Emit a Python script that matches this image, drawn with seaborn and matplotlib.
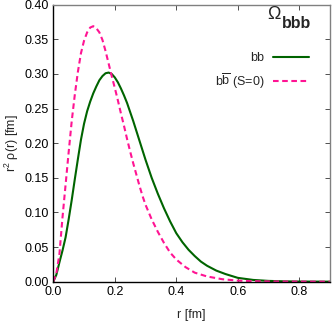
import matplotlib
matplotlib.use("Agg")
import matplotlib.pyplot as plt
import seaborn as sns
import pandas as pd

r_bb = [0.0, 0.01, 0.02, 0.03, 0.04, 0.05, 0.06, 0.07, 0.08, 0.09, 0.10, 0.11, 0.12,
        0.13, 0.14, 0.15, 0.16, 0.17, 0.18, 0.19, 0.20, 0.21, 0.22, 0.23, 0.24, 0.25,
        0.26, 0.27, 0.28, 0.29, 0.30, 0.32, 0.34, 0.36, 0.38, 0.40, 0.42, 0.44, 0.46,
        0.48, 0.50, 0.53, 0.56, 0.60, 0.65, 0.70, 0.75, 0.80, 0.90]
rho_bb = [0.0, 0.010, 0.028, 0.045, 0.064, 0.090, 0.118, 0.148, 0.177, 0.205, 0.228,
          0.246, 0.260, 0.272, 0.282, 0.291, 0.297, 0.301, 0.302, 0.300, 0.295, 0.288,
          0.279, 0.269, 0.258, 0.245, 0.232, 0.218, 0.204, 0.190, 0.176, 0.150, 0.127,
          0.106, 0.087, 0.070, 0.057, 0.046, 0.037, 0.029, 0.023, 0.016, 0.011, 0.0055,
          0.0025, 0.0011, 0.0005, 0.0002, 0.0]

r_bbar = [0.0, 0.01, 0.02, 0.03, 0.04, 0.05, 0.06, 0.07, 0.08, 0.09, 0.10, 0.11, 0.12,
          0.13, 0.14, 0.15, 0.16, 0.17, 0.18, 0.19, 0.20, 0.21, 0.22, 0.23, 0.24, 0.25,
          0.26, 0.27, 0.28, 0.29, 0.30, 0.32, 0.34, 0.36, 0.38, 0.40, 0.43, 0.46, 0.50,
          0.55, 0.60, 0.65, 0.70, 0.80, 0.90]
rho_bbar = [0.0, 0.012, 0.040, 0.093, 0.140, 0.187, 0.232, 0.270, 0.303, 0.330, 0.348,
            0.360, 0.367, 0.369, 0.366, 0.360, 0.349, 0.333, 0.315, 0.297, 0.280, 0.262,
            0.243, 0.225, 0.206, 0.188, 0.171, 0.155, 0.139, 0.124, 0.111, 0.090, 0.072,
            0.056, 0.042, 0.032, 0.021, 0.013, 0.0075, 0.0035, 0.0015, 0.0007, 0.0003,
            0.0001, 0.0]

label_bb = "bb"
label_bbar = r"b$\overline{\mathrm{b}}$ (S=0)"

sns.set_theme(style="ticks")
plt.rcParams["font.family"] = ["Liberation Sans", "DejaVu Sans"]
plt.rcParams["mathtext.fontset"] = "custom"
plt.rcParams["mathtext.rm"] = "Liberation Sans"
plt.rcParams["mathtext.bf"] = "Liberation Sans:bold"

fig = plt.figure(figsize=(3.32, 3.23), dpi=100)
ax = fig.add_axes([0.1605, 0.128, 0.8335, 0.8574])

df_bb = pd.DataFrame({"r": r_bb, "rho": rho_bb})
df_bbar = pd.DataFrame({"r": r_bbar, "rho": rho_bbar})

sns.lineplot(data=df_bb, x="r", y="rho", ax=ax, color="#006400", lw=1.5, label=label_bb)
sns.lineplot(data=df_bbar, x="r", y="rho", ax=ax, color="#ff1493", lw=1.5,
             label=label_bbar)
ax.lines[1].set_dashes((2.7, 1.7))

ax.set_xlim(0, 0.9)
ax.set_ylim(0, 0.4)
ax.set_xticks([0.0, 0.2, 0.4, 0.6, 0.8])
ax.set_yticks([0.0, 0.05, 0.10, 0.15, 0.20, 0.25, 0.30, 0.35, 0.40])
ax.xaxis.set_major_formatter(matplotlib.ticker.FormatStrFormatter("%.1f"))
ax.yaxis.set_major_formatter(matplotlib.ticker.FormatStrFormatter("%.2f"))
ax.tick_params(direction="in", length=3.5, width=0.6, labelsize=9, colors="#333333",
               labelcolor="black", top=True, right=True, pad=3)
for s in ["left", "bottom"]:
    ax.spines[s].set_color("black")
    ax.spines[s].set_linewidth(1.0)
for s in ["top", "right"]:
    ax.spines[s].set_color("#808080")
    ax.spines[s].set_linewidth(1.0)

ax.set_xlabel("r [fm]", fontsize=9, labelpad=8)
ax.set_ylabel("r$^2$ \u03c1(r) [fm]", fontsize=9, labelpad=3)

leg = ax.legend(loc="upper right", bbox_to_anchor=(0.965, 0.87), frameon=False,
                markerfirst=False, fontsize=9, handlelength=2.9, labelspacing=0.6,
                handletextpad=0.7)

# title: Omega with bold bbb subscript
ax.text(0.775, 0.935, "\u03a9", transform=ax.transAxes, ha="left", va="bottom",
        fontsize=13)
ax.text(0.827, 0.905, "bbb", transform=ax.transAxes, ha="left", va="bottom",
        fontsize=11.5, fontweight="bold")

plt.savefig("out.png", dpi=100)
plt.close()
